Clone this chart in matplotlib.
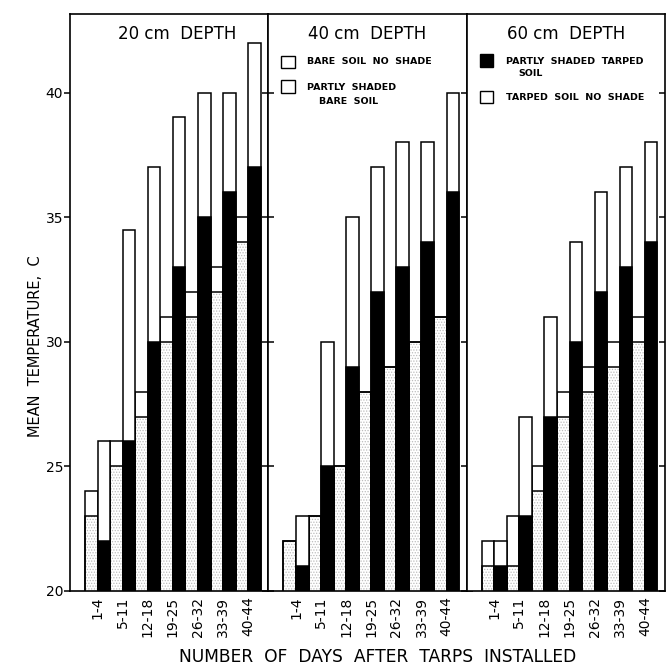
import matplotlib
matplotlib.use("Agg")
import matplotlib.pyplot as plt
from matplotlib.patches import Rectangle
import numpy as np

periods = ["1-4", "5-11", "12-18", "19-25", "26-32", "33-39", "40-44"]
depths = ["20 cm  DEPTH", "40 cm  DEPTH", "60 cm  DEPTH"]

# mean temperature (C), one row per depth: 20, 40, 60 cm
bare_no_shade = [
    [24, 26, 28, 31, 32, 33, 35],
    [22, 23, 25, 28, 29, 30, 31],
    [22, 23, 25, 28, 29, 30, 31],
]
shaded_bare = [
    [23, 25, 27, 30, 31, 32, 34],
    [22, 23, 25, 28, 29, 30, 31],
    [21, 21, 24, 27, 28, 29, 30],
]
tarped_no_shade = [
    [26, 34.5, 37, 39, 40, 40, 42],
    [23, 30, 35, 37, 38, 38, 40],
    [22, 27, 31, 34, 36, 37, 38],
]
shaded_tarped = [
    [22, 26, 30, 33, 35, 36, 37],
    [21, 25, 29, 32, 33, 34, 36],
    [21, 23, 27, 30, 32, 33, 34],
]

plt.rcParams["hatch.linewidth"] = 0.6

W, H = 668, 665
fig = plt.figure(figsize=(W / 100, H / 100), dpi=100)

left_px, top_px, bottom_px = 70, 14, 591
panel_w = (665 - left_px) / 3
axes = []
for i in range(3):
    ax = fig.add_axes([(left_px + i * panel_w) / W, (H - bottom_px) / H,
                       panel_w / W, (bottom_px - top_px) / H])
    axes.append(ax)

x = np.arange(1, len(periods) + 1)
w = 0.5
lw = 1.1

for i, ax in enumerate(axes):
    # bare soil (left bar of each pair)
    ax.bar(x - w / 2, shaded_bare[i], w, color="white", edgecolor="#bcbcbc",
           linewidth=0, hatch="......")
    ax.bar(x - w / 2, bare_no_shade[i], w, fill=False, edgecolor="black", linewidth=lw)
    ax.bar(x - w / 2, shaded_bare[i], w, fill=False, edgecolor="black", linewidth=lw)
    # tarped soil (right bar)
    ax.bar(x + w / 2, tarped_no_shade[i], w, color="white", edgecolor="black", linewidth=lw)
    ax.bar(x + w / 2, shaded_tarped[i], w, color="black", edgecolor="black", linewidth=lw)

    ax.set_xlim(-0.1, 7.8)
    ax.set_ylim(20, 43.15)
    ax.set_yticks([20, 25, 30, 35, 40])
    ax.set_xticks(x)
    ax.set_xticklabels(periods, rotation=90, fontsize=10)
    ax.tick_params(axis="x", length=0, pad=4)
    for s in ax.spines.values():
        s.set_linewidth(1.2)

    tx = 0.54 if i == 0 else 0.5
    ax.text(tx, 0.965, depths[i], transform=ax.transAxes, ha="center",
            va="center", fontsize=12)

axes[0].tick_params(axis="y", left=True, right=False, direction="out",
                    length=4, width=1.1, labelsize=10, pad=1)
axes[1].tick_params(axis="y", left=True, right=True, direction="inout",
                    length=8, width=1.1, labelleft=False)
axes[2].tick_params(axis="y", left=False, right=True, direction="in",
                    length=4, width=1.1, labelleft=False)


def to_axes(ax_i, px, py):
    # image pixel -> axes fraction of panel ax_i
    ax_left = left_px + ax_i * panel_w
    return (px - ax_left) / panel_w, (bottom_px - py) / (bottom_px - top_px)


def legend_box(ax_i, x0, y0, x1, y1, face):
    ax = axes[ax_i]
    a0 = to_axes(ax_i, x0, y1)
    a1 = to_axes(ax_i, x1, y0)
    ax.add_patch(Rectangle(a0, a1[0] - a0[0], a1[1] - a0[1], transform=ax.transAxes,
                           facecolor=face, edgecolor="black", linewidth=1.0))


def legend_text(ax_i, px, py, s):
    ax = axes[ax_i]
    ax.text(*to_axes(ax_i, px, py), s, transform=ax.transAxes, ha="left",
            va="center", fontsize=6.8, fontweight="bold")


legend_box(1, 281, 56, 295, 68, "white")
legend_text(1, 307, 62, "BARE  SOIL  NO  SHADE")
legend_box(1, 281, 80, 295, 93, "white")
legend_text(1, 307, 88, "PARTLY  SHADED")
legend_text(1, 319, 101, "BARE  SOIL")

legend_box(2, 480, 54, 493, 67, "black")
legend_text(2, 506, 61, "PARTLY  SHADED  TARPED")
legend_text(2, 518, 73, "SOIL")
legend_box(2, 480, 91, 493, 103, "white")
legend_text(2, 506, 98, "TARPED  SOIL  NO  SHADE")

fig.text(378 / W, 1 - 657 / H, "NUMBER  OF  DAYS  AFTER  TARPS  INSTALLED",
         ha="center", va="center", fontsize=12.3)
fig.text(36 / W, 1 - 346 / H, "MEAN  TEMPERATURE,  C", rotation=90,
         ha="center", va="center", fontsize=10.5)

fig.savefig("out.png", dpi=100)
